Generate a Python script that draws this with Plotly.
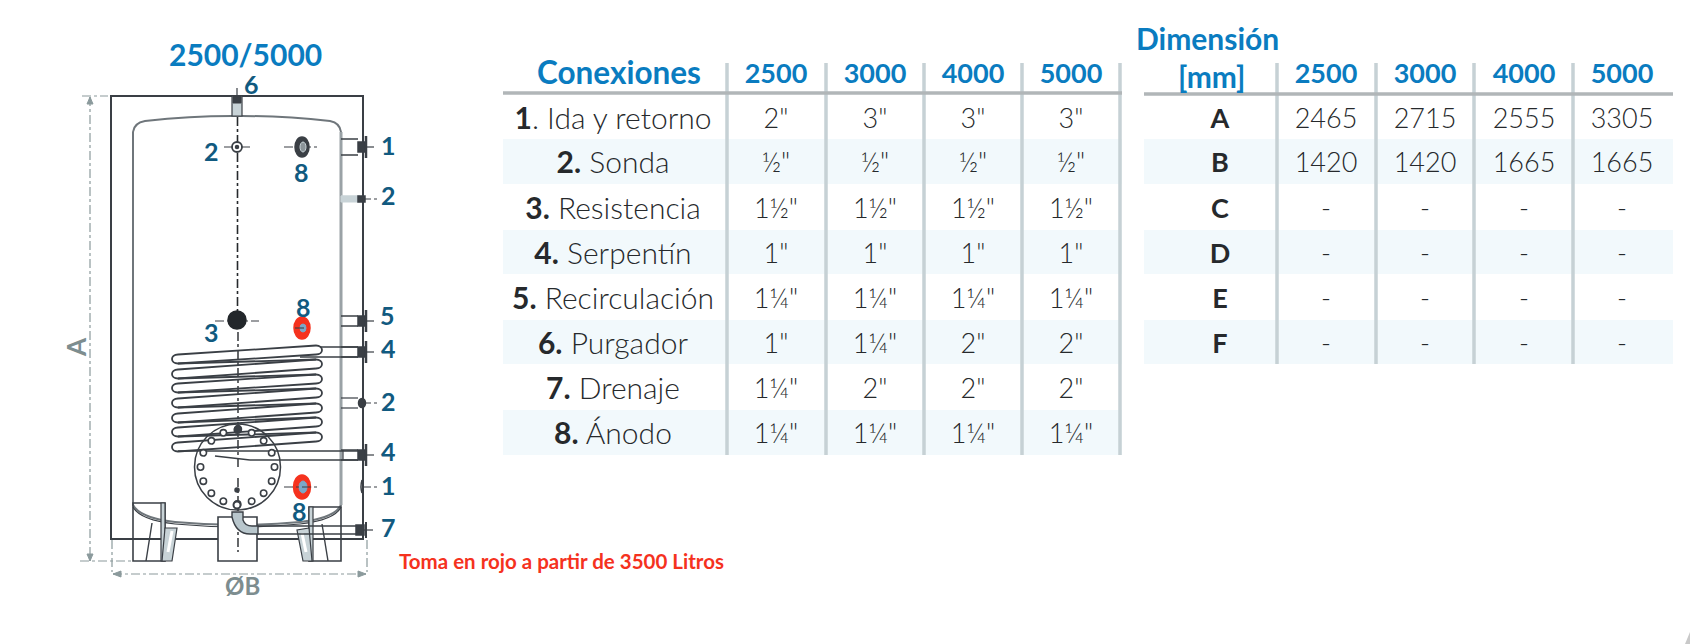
"""Tank connection diagram with the connections and dimensions tables."""

import math

import plotly.graph_objects as go

SIZES = ["2500", "3000", "4000", "5000"]
CONNECTIONS = [
    ("1", ". Ida y retorno"),
    ("2.", " Sonda"),
    ("3.", " Resistencia"),
    ("4.", " Serpentín"),
    ("5.", " Recirculación"),
    ("6.", " Purgador"),
    ("7.", " Drenaje"),
    ("8.", " Ánodo"),
]
CONNECTION_VALUES = [
    ['2"', '3"', '3"', '3"'],
    ['½"', '½"', '½"', '½"'],
    ['1½"', '1½"', '1½"', '1½"'],
    ['1"', '1"', '1"', '1"'],
    ['1¼"', '1¼"', '1¼"', '1¼"'],
    ['1"', '1¼"', '2"', '2"'],
    ['1¼"', '2"', '2"', '2"'],
    ['1¼"', '1¼"', '1¼"', '1¼"'],
]
DIMENSIONS = ["A", "B", "C", "D", "E", "F"]
DIMENSION_VALUES = [
    ["2465", "2715", "2555", "3305"],
    ["1420", "1420", "1665", "1665"],
    ["-", "-", "-", "-"],
    ["-", "-", "-", "-"],
    ["-", "-", "-", "-"],
    ["-", "-", "-", "-"],
]

WIDTH, HEIGHT = 1690, 644
FONT = "Lato"
BLUE = "#0a7cc0"
TEAL = "#115a80"
INK = "#26292c"
DARK = "#3a3f45"
GREY = "#8b9a9c"
RED = "#f5321e"
SEPARATOR = "#c6d1d5"
RULE = "#b1b6b8"
BAND = "#f2f9fc"
ROW_EDGES = [95, 139, 184, 230, 274, 320, 364, 410, 455]
COL1_SEPS = [727, 826, 924, 1022, 1120]
COL2_SEPS = [1277, 1376, 1474, 1573]
COL1_CENTERS = [776, 875, 973, 1071]
COL2_CENTERS = [1326, 1425, 1524, 1622]

shapes = []
annotations = []


def line(x0, y0, x1, y1, color=DARK, width=1.5, dash=None):
    shapes.append(dict(type="line", x0=x0, y0=y0, x1=x1, y1=y1, layer="below",
                       line=dict(color=color, width=width, dash=dash)))


def rect(x0, y0, x1, y1, fill=None, color=DARK, width=1.5):
    shapes.append(dict(type="rect", x0=x0, y0=y0, x1=x1, y1=y1, fillcolor=fill, layer="below",
                       line=dict(color=color, width=width)))


def ellipse(cx, cy, rx, ry, fill=None, color=DARK, width=1.5):
    shapes.append(dict(type="circle", x0=cx - rx, y0=cy - ry, x1=cx + rx, y1=cy + ry,
                       fillcolor=fill, layer="below", line=dict(color=color, width=width)))


def path(d, fill=None, color=DARK, width=1.5):
    shapes.append(dict(type="path", path=d, fillcolor=fill, layer="below",
                       line=dict(color=color, width=width)))


def label(x, y, text, size=25, color=TEAL, bold=True, angle=0, anchor="center"):
    annotations.append(dict(x=x, y=y, text=f"<b>{text}</b>" if bold else text, showarrow=False,
                            xanchor=anchor, yanchor="middle", textangle=angle,
                            font=dict(family=FONT, size=size, color=color)))


def axis_mark(cx, cy, half):
    line(cx - half, cy, cx + half, cy, color=DARK, width=1.2, dash="dashdot")


def nozzle(y, half=5, end=358):
    """Right-hand wall connection: two stub lines, flange and centre mark."""
    line(341, y - half, end, y - half)
    line(341, y + half, end, y + half)
    rect(358, y - 5, 365, y + 5, fill=DARK)
    line(366, y - 11, 366, y + 11, width=2.5)
    line(365, y, 376, y, width=1.2, dash="dashdot")


def draw_tables():
    for top, bottom in zip(ROW_EDGES[1::2], ROW_EDGES[2::2]):
        rect(503, top, 1122, bottom, fill=BAND, color=BAND, width=0)
    for top, bottom in zip(ROW_EDGES[1:7:2], ROW_EDGES[2:7:2]):
        rect(1144, top, 1673, bottom, fill=BAND, color=BAND, width=0)
    for x in COL1_SEPS:
        line(x, 63, x, ROW_EDGES[-1], color=SEPARATOR, width=3.5)
    for x in COL2_SEPS:
        line(x, 63, x, ROW_EDGES[6], color=SEPARATOR, width=3.5)
    line(503, 93, 1122, 93, color=RULE, width=3.5)
    line(1144, 94, 1673, 94, color=RULE, width=3.5)


def draw_tank():
    # dimension lines
    line(90, 97, 90, 561, color=GREY, width=1.2, dash="dashdot")
    line(82, 96, 108, 96, color=GREY, width=1.2, dash="dashdot")
    line(80, 561, 133, 561, color=GREY, width=1.2, dash="dashdot")
    path("M 90 97 L 87 104 L 93 104 Z", fill=GREY, color=GREY, width=1)
    path("M 90 561 L 87 554 L 93 554 Z", fill=GREY, color=GREY, width=1)
    line(112, 540, 112, 572, color=GREY, width=1.2, dash="dashdot")
    line(367, 540, 367, 572, color=GREY, width=1.2, dash="dashdot")
    line(113, 574, 366, 574, color=GREY, width=1.2, dash="dashdot")
    path("M 113 574 L 121 571 L 121 577 Z", fill=GREY, color=GREY, width=1)
    path("M 366 574 L 358 571 L 358 577 Z", fill=GREY, color=GREY, width=1)

    # casing and vessel
    rect(111, 96, 363, 539, width=2)
    path("M 133 505 L 133 132 Q 134 123 145 121 Q 190 116 232 116 L 242 116 "
         "Q 285 116 330 121 Q 340 123 341 132 L 341 505 Q 335 518 300 522 "
         "Q 240 528 175 522 Q 140 518 133 505 Z", fill="#ffffff", color="#6f767b", width=2)
    line(341, 132, 341, 505, color="#9aa2a6", width=3)
    path("M 133 507 Q 140 520 175 524 Q 240 530 300 524 Q 335 520 341 507",
         color=DARK, width=1.2)

    # top vent
    rect(232, 96, 242, 116, fill="#c8d3d7", color=DARK, width=1.2)
    rect(233, 96, 241, 103, fill=DARK, color=DARK, width=1)
    line(237, 88, 237, 96, width=1.2)

    # central axis
    line(237.5, 117, 237.5, 312, color=INK, width=1.6, dash="dashdot")
    line(238, 332, 238, 470, color=INK, width=1.4, dash="dashdot")
    line(238, 478, 238, 552, color=INK, width=1.4, dash="dashdot")

    # coil
    right_loops = [350, 364, 379, 393, 408, 422, 437]
    left_loops = [359, 374, 388, 403, 418, 432, 447]
    left_x, right_x, half = 172, 322, 4.5
    for i, (yr, yl) in enumerate(zip(right_loops, left_loops)):
        path(f"M {right_x - 6} {yr - half} C {right_x + 2} {yr - half} {right_x + 2} {yr + half} "
             f"{right_x - 6} {yr + half}", width=1.8)
        path(f"M {left_x + 6} {yl - half} C {left_x - 2} {yl - half} {left_x - 2} {yl + half} "
             f"{left_x + 6} {yl + half}", width=1.8)
        line(right_x - 6, yr - half, left_x + 6, yl - half, width=1.8)
        line(right_x - 6, yr + half, left_x + 6, yl + half, width=1.8)
        if i + 1 < len(right_loops):
            next_y = right_loops[i + 1]
            line(left_x + 6, yl + half, right_x - 6, next_y - half, width=1.8)

    # coil ends
    line(320, 347, 358, 347, width=1.6)
    line(300, 357, 358, 357, width=1.6)
    line(178, 451, 358, 451, width=1.6)
    line(215, 456, 250, 460, width=1.6)
    line(250, 460, 358, 460, width=1.6)
    line(343, 450, 343, 460, width=1.2)

    # inspection flange
    cx, cy = 237.5, 467
    ellipse(cx, cy, 43, 43, width=1.5)
    for i in range(16):
        angle = math.radians(i * 22.5)
        hx = cx + 37 * math.cos(angle)
        hy = cy + 37 * math.sin(angle)
        ellipse(hx, hy, 3.2, 3.2, fill="#ffffff", width=1.6)
    ellipse(238, 429, 3.5, 3.5, fill=DARK)
    ellipse(237, 505, 3.5, 3.5, fill="#ffffff", width=2)
    ellipse(237, 490, 2, 2, fill=DARK)

    # probes and anodes
    ellipse(237, 147, 5, 5, fill="#ffffff", width=1.8)
    ellipse(237, 147, 1.5, 1.5, fill=DARK)
    axis_mark(237, 147, 13)
    axis_mark(302, 147, 18)
    ellipse(302, 147, 7, 10, fill=DARK)
    ellipse(303, 147, 3, 5, fill="#8b9499", color="#c8d3d7", width=1)
    axis_mark(237, 321, 22)
    ellipse(237, 320, 9, 9, fill="#23272b", color="#23272b")
    ellipse(302, 328, 8, 11, fill=RED, color=RED)
    ellipse(303, 328, 3, 4, fill="#7aa8c8", color="#7aa8c8", width=1)
    line(295, 328, 310, 328, width=1.1, dash="dash")
    ellipse(302, 487, 8.5, 12, fill=RED, color=RED)
    ellipse(303, 487, 4, 6, fill="#7aa8c8", color="#7aa8c8", width=1)
    axis_mark(302, 487, 18)

    # right-hand connections
    nozzle(147, half=8)
    line(341, 196, 360, 196, color="#c8d3d7", width=1)
    rect(341, 196, 360, 202, fill="#c8d3d7", color="#c8d3d7", width=1)
    rect(358, 196, 365, 202, fill=DARK)
    line(362, 199, 378, 199, width=1.2, dash="dashdot")
    nozzle(321)
    nozzle(352)
    line(341, 398, 358, 398, width=1.2)
    line(341, 408, 358, 408, width=1.2)
    ellipse(362, 403, 3.5, 4.5, fill=DARK)
    line(362, 403, 378, 403, width=1.2, dash="dashdot")
    nozzle(455)
    path("M 362 480 Q 360 487 362 493", width=1.5)
    line(362, 487, 377, 487, width=1.2, dash="dashdot")

    # feet
    rect(133, 503, 165, 561, width=1.6)
    rect(161, 503, 165, 561, fill="#c8d3d7", width=1.2)
    path("M 165 528 L 177 528 L 172 561 L 162 561 Z", fill="#c8d3d7", width=1.2)
    path("M 168 552 L 172 531", color="#ffffff", width=3)
    line(152, 523, 146, 561, width=1.4)
    rect(218, 517, 257, 561, fill="#ffffff", width=1.6)
    line(238, 520, 238, 552, color=INK, width=1.4, dash="dashdot")
    rect(309, 507, 341, 561, width=1.6)
    rect(309, 507, 313, 561, fill="#c8d3d7", width=1.2)
    path("M 309 528 L 297 530 L 303 561 L 312 561 Z", fill="#c8d3d7", width=1.2)
    path("M 306 552 L 302 533", color="#ffffff", width=3)
    line(322, 524, 328, 561, width=1.4)

    # drain
    line(258, 526, 358, 526, width=1.4)
    line(258, 534, 358, 534, width=1.4)
    path("M 232 512 L 243 512 L 243 520 Q 245 526 252 526 L 258 526 L 258 534 L 250 534 "
         "Q 236 534 232 517 Z", fill="#b8c6cc", width=1.4)
    rect(356, 525, 364, 535, fill=DARK)
    line(364, 530, 375, 530, width=1.2, dash="dashdot")
    line(366, 522, 366, 538, width=2)

    # sliver at the page corner
    path("M 1690 632 L 1685 644 L 1690 644 Z", fill="#c9c9c9", color="#c9c9c9", width=0)


def draw_labels():
    label(245, 54, "2500/5000", size=30, color=BLUE)
    for x, y, text in [
        (251, 84, "6"), (211, 151, "2"), (301, 172, "8"), (388, 145, "1"), (388, 195, "2"),
        (387, 315, "5"), (303, 307, "8"), (211, 332, "3"), (388, 348, "4"), (388, 401, "2"),
        (388, 451, "4"), (388, 485, "1"), (299, 511, "8"), (388, 527, "7"),
    ]:
        label(x, y, text)
    label(76, 347, "A", size=26, color="#7d8d8f", angle=-90)
    label(242, 585, "ØB", size=24, color="#7d8d8f")
    label(397, 561, "Toma en rojo a partir de 3500 Litros", size=20.5, color=RED, anchor="left")
    label(619, 72, "Conexiones", size=31.5, color=BLUE)
    label(1207, 38, "Dimensión", size=30, color=BLUE)
    label(1211, 76, "[mm]", size=30, color=BLUE)


draw_tables()
draw_tank()
draw_labels()

fig = go.Figure()

# header cells
fig.add_trace(go.Scatter(
    x=COL1_CENTERS + COL2_CENTERS,
    y=[76] * 8,
    text=[f"<b>{s}</b>" for s in SIZES + SIZES],
    mode="text",
    textposition="middle center",
    textfont=dict(family=FONT, size=27, color=BLUE),
    hoverinfo="skip",
))

# row labels
row_y = [(a + b) / 2 + 4 for a, b in zip(ROW_EDGES, ROW_EDGES[1:])]
fig.add_trace(go.Scatter(
    x=[613] * len(CONNECTIONS),
    y=row_y,
    text=[f"<b>{num}</b>{name}" for num, name in CONNECTIONS],
    mode="text",
    textposition="middle center",
    textfont=dict(family=FONT, size=30, color=INK, weight=300),
    hoverinfo="skip",
))
fig.add_trace(go.Scatter(
    x=[1220] * len(DIMENSIONS),
    y=row_y[: len(DIMENSIONS)],
    text=[f"<b>{d}</b>" for d in DIMENSIONS],
    mode="text",
    textposition="middle center",
    textfont=dict(family=FONT, size=27, color=INK),
    hoverinfo="skip",
))

# value cells
for centers, rows in ((COL1_CENTERS, CONNECTION_VALUES), (COL2_CENTERS, DIMENSION_VALUES)):
    for y, row in zip(row_y, rows):
        fig.add_trace(go.Scatter(
            x=centers,
            y=[y] * len(row),
            text=row,
            mode="text",
            textposition="middle center",
            textfont=dict(family=FONT, size=27, color=INK, weight=300),
            hoverinfo="skip",
        ))

fig.update_layout(
    width=WIDTH,
    height=HEIGHT,
    margin=dict(l=0, r=0, t=0, b=0),
    showlegend=False,
    paper_bgcolor="#ffffff",
    plot_bgcolor="#ffffff",
    shapes=shapes,
    annotations=annotations,
    xaxis=dict(range=[0, WIDTH], visible=False, fixedrange=True),
    yaxis=dict(range=[HEIGHT, 0], visible=False, fixedrange=True),
)

fig.write_html("out.html", config={"displayModeBar": False},
               post_script="document.body.style.margin='0';")
